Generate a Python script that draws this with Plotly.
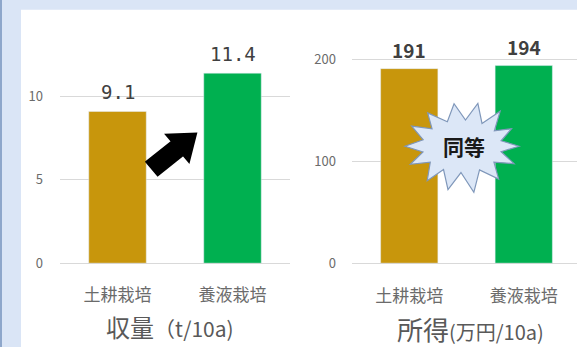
import math
import plotly.graph_objects as go

# ---- data ----
categories = ["土耕栽培", "養液栽培"]
yield_values = [9.1, 11.4]        # 収量 (t/10a)
income_values = [191, 194]        # 所得 (万円/10a)
bar_colors = ["#C8960C", "#00B050"]
yield_ticks = [0, 5, 10]
income_ticks = [0, 100, 200]

W, H = 577, 356


def px(x):
    return x / W


def py(y):
    return 1 - y / H


fig = go.Figure()

fig.add_trace(go.Bar(x=categories, y=yield_values, marker_color=bar_colors,
                     width=0.5, xaxis="x", yaxis="y", hoverinfo="skip"))
fig.add_trace(go.Bar(x=categories, y=income_values, marker_color=bar_colors,
                     width=0.5, xaxis="x2", yaxis="y2", hoverinfo="skip"))

tick_font = dict(family="Noto Sans CJK JP", size=13, color="#6B6B6B")
cat_font = dict(family="Noto Sans CJK JP", size=17, color="#6B6B6B")
grid = "#D9D9D9"

fig.update_layout(
    width=W, height=H,
    margin=dict(l=0, r=0, t=0, b=0),
    paper_bgcolor="white", plot_bgcolor="rgba(0,0,0,0)",
    showlegend=False, bargap=0.5,
    xaxis=dict(domain=[px(60), px(290)], range=[-0.5, 1.5], tickfont=cat_font,
               showgrid=False, zeroline=False, showline=False, ticks="",
               ticklabelstandoff=20, fixedrange=True),
    yaxis=dict(domain=[py(270), py(35)], range=[0, 235 / 17.1],
               tickvals=yield_ticks, tickfont=tick_font, gridcolor=grid,
               zeroline=True, zerolinecolor=grid, zerolinewidth=1,
               ticklabelstandoff=16, anchor="x", fixedrange=True),
    xaxis2=dict(domain=[px(352), 1], range=[-0.5, -0.5 + 225 / 114.5],
                tickfont=cat_font, showgrid=False, zeroline=False,
                showline=False, ticks="", ticklabelstandoff=21,
                anchor="y2", fixedrange=True),
    yaxis2=dict(domain=[py(270), py(35)], range=[0, 235 / 1.045],
                tickvals=income_ticks, tickfont=tick_font, gridcolor=grid,
                zeroline=True, zerolinecolor=grid, zerolinewidth=1,
                ticklabelstandoff=15, anchor="x2", fixedrange=True),
)

# value labels above the bars
for cat, v in zip(categories, yield_values):
    fig.add_annotation(x=cat, y=v, xref="x", yref="y", text=f"{v:.1f}",
                       showarrow=False, yanchor="middle", yshift=19,
                       font=dict(family="DejaVu Sans Mono", size=19, color="#404040"))
for cat, v in zip(categories, income_values):
    fig.add_annotation(x=cat, y=v, xref="x2", yref="y2", text=f"{v}",
                       showarrow=False, yanchor="middle", yshift=19,
                       font=dict(family="Noto Sans CJK JP", size=19, color="#404040",
                                 weight=600))

# chart titles under the category labels
fig.add_annotation(x=px(170), y=py(335), xref="paper", yref="paper",
                   text="収量<span style='font-size:21px'>（t/10a)</span>",
                   showarrow=False, xanchor="center", yanchor="middle",
                   font=dict(family="Noto Sans CJK JP", size=24, color="#595959"))
fig.add_annotation(x=px(470), y=py(337), xref="paper", yref="paper",
                   text="所得<span style='font-size:20px'>(万円/10a)</span>",
                   showarrow=False, xanchor="center", yanchor="middle",
                   font=dict(family="Noto Sans CJK JP", size=26, color="#595959"))

# light blue frame at the top and left edge
shapes = [
    dict(type="rect", xref="paper", yref="paper", x0=0, x1=px(21), y0=0, y1=1,
         fillcolor="#DAE5F6", line_width=0, layer="below"),
    dict(type="rect", xref="paper", yref="paper", x0=0, x1=1, y0=py(10), y1=1,
         fillcolor="#DAE5F6", line_width=0, layer="below"),
    dict(type="rect", xref="paper", yref="paper", x0=0, x1=px(2), y0=0, y1=1,
         fillcolor="#8EA7CB", line_width=0, layer="below"),
]


def poly_path(pts):
    return "M " + " L ".join(f"{px(x):.5f},{py(y):.5f}" for x, y in pts) + " Z"


# bold arrow between the yield bars
ax0, ay0 = 152, 173
ang = math.atan2(137 - 173, 196 - 152)
L, head_len, shaft_w, head_w = 57, 24, 9, 18
ux, uy = math.cos(ang), math.sin(ang)
vx, vy = -uy, ux


def loc(u, v):
    return (ax0 + u * ux + v * vx, ay0 + u * uy + v * vy)


arrow = [loc(0, -shaft_w), loc(L - head_len, -shaft_w), loc(L - head_len, -head_w),
         loc(L, 0), loc(L - head_len, head_w), loc(L - head_len, shaft_w),
         loc(0, shaft_w)]
shapes.append(dict(type="path", xref="paper", yref="paper", path=poly_path(arrow),
                   fillcolor="black", line=dict(color="black", width=2)))

# starburst behind the "同等" callout
cx, cy = 462, 150
spikes = [(0, 1.00, 0.95), (24, 0.95, 1.0), (48, 1.0, 1.1), (72, 0.9, 1.05),
          (98, 1.0, 1.0), (125, 1.05, 0.95), (152, 1.0, 1.0), (180, 1.0, 1.0),
          (205, 1.0, 1.0), (230, 0.95, 1.05), (255, 0.95, 1.05), (282, 1.0, 1.1),
          (310, 1.0, 1.0), (336, 1.0, 1.0)]
star = []
rx_o, ry_o, rx_i, ry_i = 57, 44, 40, 27
for i, (deg, kx, ky) in enumerate(spikes):
    a = math.radians(deg)
    star.append((cx + rx_o * kx * math.cos(a), cy - ry_o * ky * math.sin(a)))
    nxt = spikes[i + 1][0] if i < len(spikes) - 1 else 360
    a2 = math.radians((deg + nxt) / 2)
    star.append((cx + rx_i * math.cos(a2), cy - ry_i * math.sin(a2)))
shapes.append(dict(type="path", xref="paper", yref="paper", path=poly_path(star),
                   fillcolor="#DCE7F7", line=dict(color="#7F97BA", width=1.2)))

fig.update_layout(shapes=shapes)

fig.add_annotation(x=px(cx + 2), y=py(cy), xref="paper", yref="paper", text="<b>同等</b>",
                   showarrow=False, xanchor="center", yanchor="middle",
                   font=dict(family="Noto Sans CJK JP", size=21, color="#1A1A1A"))

fig.write_html("out.html")
